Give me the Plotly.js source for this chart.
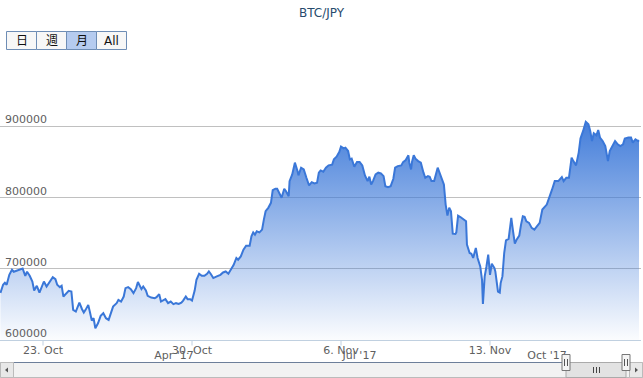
<!DOCTYPE html>
<html>
<head>
<meta charset="utf-8">
<script src="https://cdn.plot.ly/plotly-3.0.1.min.js"></script>
<style>html,body{margin:0;padding:0;background:#fff;}#chart{width:643px;height:378px;}</style>
</head>
<body>
<div id="chart"></div>
<script>
// ---------------- DATA ----------------
const TITLE = 'BTC/JPY';
const START = '2017-10-21T00:00:00Z';   // first sample (hours below are counted from here)
const hours = [
  0,1,3,5,7,10,13,15,18,22,
  25,28,30,33,36,38,41,44,47,49,
  52,55,59,62,64,67,69,71,74,77,
  80,82,85,89,92,94,96,99,101,103,
  105,107,110,113,116,119,122,124,127,131,
  133,136,139,141,144,147,150,153,155,159,
  161,164,166,170,174,176,179,181,184,186,
  189,192,195,198,201,204,206,209,211,214,
  216,219,221,224,227,230,233,235,237,240,
  244,248,251,254,257,260,263,266,268,271,
  274,277,281,283,285,287,289,292,295,297,
  299,302,305,307,310,312,314,317,320,322,
  325,326,329,332,335,336,339,342,345,348,
  351,354,357,359,361,364,367,370,374,376,
  379,382,384,387,389,392,394,396,399,402,
  405,408,411,414,416,418,420,423,426,429,
  432,434,437,440,443,445,448,452,454,457,
  460,461,463,464,466,468,471,474,477,479,
  482,484,486,489,493,495,498,500,502,504,
  506,508,510,513,514,516,519,522,525,526,
  529,531,533,536,538,541,543,544,546,548,
  550,552,554,557,558,561,563,564,566,568,
  570,573,575,576,578,580,582,585,587,589,
  591,593,596,599,602,605,608,611,616,622,
  625,629,633,635,638,641,644,646,649,652,
  654,657,660,663,665,667,669,672,674,676,
  679,682,685,687,690,693,696,699,702,704,
  708,711,713,716,719,720
];
const price = [
  666200,670400,677500,680300,677500,691500,698600,695800,697200,700000,
  700400,690100,695800,690100,682100,669400,676100,666600,674600,682100,
  675100,680700,688300,685500,677500,674200,676100,661000,665800,669000,
  668000,642300,639900,652500,643200,638500,642300,649300,638500,627200,
  630600,616500,623500,633800,637600,630600,628200,635200,646900,651700,
  656300,653900,661000,672800,674200,671400,665800,672800,681300,671400,
  675100,669400,662000,659600,658700,660100,664400,653900,656300,657300,
  651700,653900,650300,651700,650700,652500,655400,661000,657300,657300,
  655400,669400,684500,693000,690100,690100,693000,696200,693000,686900,
  689200,691500,694800,696200,693000,698600,705600,715100,712700,717300,
  726800,732400,732400,745500,751100,747900,752500,751100,754900,769000,
  780700,785500,792500,810300,812300,812300,807500,799600,812300,808900,
  801800,823000,832400,848900,837000,831000,841800,839400,827700,816900,
  821500,819700,820700,834800,838000,836200,841800,845100,846100,853500,
  857300,863800,871400,869000,870000,865200,853500,854500,843200,849700,
  849700,845100,831000,823000,829200,818300,823000,832400,834800,833800,
  830000,815900,814500,815900,826300,841800,844100,845100,849700,852500,
  859200,848900,839400,849700,859200,854500,851100,848900,834800,827700,
  830000,829200,823000,823000,841800,834800,826300,818300,790100,774600,
  785500,780700,749300,748900,751100,774600,772300,769000,766600,733800,
  722100,721100,715100,729200,715100,703200,684500,650700,689200,703200,
  719700,691500,707000,701000,696200,668000,666600,679900,689200,722100,
  739900,741800,762000,771400,752500,735200,740800,746500,762000,773700,
  772800,766600,764400,757300,754900,759600,764400,783100,790100,811300,
  823000,823000,828600,823000,827700,827700,855900,851100,845100,863000,
  882700,893400,906100,902800,893400,879300,890100,887300,894800,884100,
  879300,872300,851100,865200,872300,879300,874600,872300,874600,882700,
  884100,884100,877000,881700,879300,880300
];
const xRange = ['2017-10-20 23:30', '2017-11-20 02:15'];
const xTickVals = ['2017-10-23', '2017-10-30', '2017-11-06', '2017-11-13'];
const xTickText = ['23. Oct', '30. Oct', '6. Nov', '13. Nov'];
const yTickVals = [600000, 700000, 800000, 900000, 1000000];
const yTickText = ['600000', '700000', '800000', '900000', ''];
const yRange = [600000, 1000000];
const navRange = ['2017-01-16 10:00', '2017-11-26 22:00'];
const navTickVals = ['2017-04-01', '2017-07-01', '2017-10-01'];
const navTickText = ["Apr '17", "Jul '17", "Oct '17"];
const rangeButtons = ['日', '週', '月', 'All'];
const selectedButton = 2;

// ---------------- BUILD ----------------
const t0 = Date.parse(START);
const xDates = hours.map(h => new Date(t0 + h * 3600e3).toISOString().slice(0, 16).replace('T', ' '));

const W = 643, H = 378, M = {l: 0, r: 2, t: 55, b: 38};
const PW = W - M.l - M.r, PH = H - M.t - M.b;
const px = x => (x - M.l) / PW;
const py = y => (H - M.b - y) / PH;

const FONT = 'DejaVu Sans, Verdana, Arial, sans-serif';
const LINE = '#3a77d8';

const traces = [
  {
    type: 'scatter', mode: 'lines', x: xDates, y: price,
    line: {color: LINE, width: 2},
    fill: 'tozeroy',
    fillgradient: {
      type: 'vertical', start: yRange[0], stop: Math.max(...price),
      colorscale: [[0, 'rgba(58,119,216,0.02)'], [1, 'rgba(58,119,216,0.95)']]
    },
    hoverinfo: 'skip', showlegend: false
  },
  {
    type: 'scatter', mode: 'lines', x: xDates, y: price, xaxis: 'x2', yaxis: 'y',
    line: {color: 'rgba(0,0,0,0)', width: 0}, opacity: 0,
    hoverinfo: 'skip', showlegend: false
  }
];

const shapes = [];
const annotations = [];
// x-axis tick marks (hanging below the axis line)
xTickVals.forEach(v => {
  shapes.push({type: 'line', xref: 'x', yref: 'paper', x0: v, x1: v, y0: py(340), y1: py(345.5),
    line: {color: '#C0D0E0', width: 1}});
});
// y-axis labels (Highstock style: left, sitting on top of the grid line)
yTickVals.forEach((v, i) => {
  if (!yTickText[i]) return;
  annotations.push({xref: 'paper', yref: 'y', x: 0, y: v, xanchor: 'left', yanchor: 'bottom',
    xshift: 3, yshift: -2, text: yTickText[i], showarrow: false,
    font: {family: FONT, size: 11, color: '#606060'}});
});
// range selector buttons
rangeButtons.forEach((b, i) => {
  const x0 = 6.5 + i * 30, x1 = x0 + 30;
  shapes.push({type: 'rect', xref: 'paper', yref: 'paper', x0: px(x0), x1: px(x1), y0: py(49.5), y1: py(31.5),
    fillcolor: i === selectedButton ? '#b5cbef' : '#f7f7f7', line: {color: '#6e8db5', width: 1}, layer: 'above'});
  annotations.push({xref: 'paper', yref: 'paper', x: px((x0 + x1) / 2), y: py(40.5), text: b, showarrow: false,
    xanchor: 'center', yanchor: 'middle', font: {family: 'DejaVu Sans, Noto Sans CJK JP, sans-serif', size: 12, color: '#111'}});
});
// navigator outline + scrollbar
const sb = {y0: 362.5, y1: 377.5, thumb0: 566, thumb1: 626};
shapes.push({type: 'rect', xref: 'paper', yref: 'paper', x0: px(0.5), x1: px(642.5), y0: py(sb.y1), y1: py(sb.y0),
  fillcolor: '#f2f2f2', line: {color: '#bbbbbb', width: 1}});
shapes.push({type: 'line', xref: 'paper', yref: 'paper', x0: px(13.5), x1: px(sb.thumb0), y0: py(sb.y0), y1: py(sb.y0),
  line: {color: '#6d7f9a', width: 1}});
shapes.push({type: 'line', xref: 'paper', yref: 'paper', x0: px(sb.thumb1), x1: px(629.5), y0: py(sb.y0), y1: py(sb.y0),
  line: {color: '#6d7f9a', width: 1}});
[[0.5, 13.5], [629.5, 642.5]].forEach(([a, b]) => {
  shapes.push({type: 'rect', xref: 'paper', yref: 'paper', x0: px(a), x1: px(b), y0: py(sb.y1), y1: py(sb.y0),
    fillcolor: '#e8e8e8', line: {color: '#bbbbbb', width: 1}});
});
// arrows
shapes.push({type: 'path', xref: 'paper', yref: 'paper', fillcolor: '#555', line: {width: 0},
  path: `M ${px(5)} ${py(370)} L ${px(8)} ${py(367.5)} L ${px(8)} ${py(372.5)} Z`});
shapes.push({type: 'path', xref: 'paper', yref: 'paper', fillcolor: '#555', line: {width: 0},
  path: `M ${px(638)} ${py(370)} L ${px(635)} ${py(367.5)} L ${px(635)} ${py(372.5)} Z`});
// thumb
shapes.push({type: 'rect', xref: 'paper', yref: 'paper', x0: px(sb.thumb0), x1: px(sb.thumb1), y0: py(sb.y1), y1: py(sb.y0),
  fillcolor: '#e2e2e2', line: {color: '#aaaaaa', width: 1}});
[-3, 0, 3].forEach(d => {
  const cx = (sb.thumb0 + sb.thumb1) / 2 + d + 0.5;
  shapes.push({type: 'line', xref: 'paper', yref: 'paper', x0: px(cx), x1: px(cx), y0: py(373), y1: py(367),
    line: {color: '#444', width: 1}});
});
// handles
[sb.thumb0, sb.thumb1].forEach(hx => {
  shapes.push({type: 'rect', xref: 'paper', yref: 'paper', x0: px(hx - 4), x1: px(hx + 4), y0: py(370.5), y1: py(354.5),
    fillcolor: '#f4f4f4', line: {color: '#777', width: 1}});
  [-1, 2].forEach(d => {
    shapes.push({type: 'line', xref: 'paper', yref: 'paper', x0: px(hx + d - 0.5), x1: px(hx + d - 0.5), y0: py(366), y1: py(359),
      line: {color: '#555', width: 1}});
  });
});

const layout = {
  width: W, height: H, margin: M,
  paper_bgcolor: '#ffffff', plot_bgcolor: '#ffffff',
  showlegend: false, hovermode: false,
  title: {text: TITLE, font: {family: FONT, size: 12, color: '#274b6d'},
    x: 0.5, xref: 'container', xanchor: 'center', y: 1 - 13 / H, yref: 'container', yanchor: 'middle'},
  xaxis: {
    type: 'date', range: xRange, tickvals: xTickVals, ticktext: xTickText,
    showgrid: false, zeroline: false, showline: true, linecolor: '#C0D0E0', linewidth: 1,
    ticks: '', ticklabelstandoff: 0,
    tickfont: {family: FONT, size: 11, color: '#606060'}, fixedrange: true
  },
  xaxis2: {
    type: 'date', overlaying: 'x', anchor: 'free', position: 0, side: 'bottom',
    range: navRange, tickvals: navTickVals, ticktext: navTickText,
    showgrid: false, zeroline: false, showline: false, ticks: '',
    ticklabelshift: 22, ticklabelstandoff: 7,
    tickfont: {family: FONT, size: 11, color: '#606060'}, fixedrange: true
  },
  yaxis: {
    range: yRange, tickvals: yTickVals, showticklabels: false,
    showgrid: true, gridcolor: '#C0C0C0', gridwidth: 1, zeroline: false, showline: false,
    ticks: '', fixedrange: true
  },
  shapes: shapes, annotations: annotations
};

Plotly.newPlot('chart', traces, layout, {displayModeBar: false, staticPlot: true});
</script>
</body>
</html>
